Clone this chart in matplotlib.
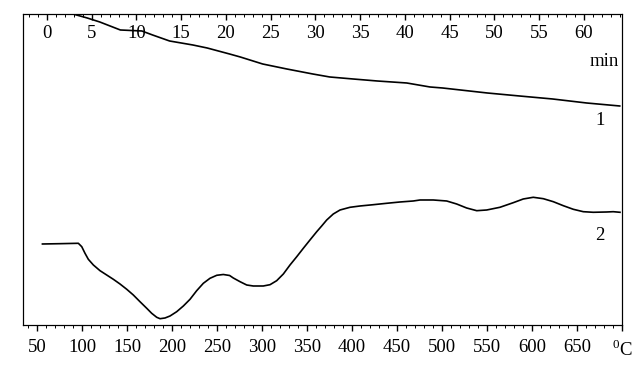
import numpy as np
import matplotlib; matplotlib.use("Agg")
import matplotlib.pyplot as plt
from matplotlib.ticker import MultipleLocator, FixedLocator, FixedFormatter

plt.rcParams["font.family"] = ["Liberation Serif", "DejaVu Serif"]
plt.rcParams["mathtext.fontset"] = "custom"
plt.rcParams["mathtext.rm"] = "Liberation Serif"

# curve 1: signal vs time (min), arbitrary units
t1 = [2.9, 4.5, 5.9, 8.2, 10.6, 11.8, 13.7, 16.3, 17.9, 20.4, 21.6, 24.1, 26.8,
      29.7, 31.6, 34.2, 36.9, 40.2, 42.8, 44.2, 49.2, 52.8, 56.5, 60.3, 64.0]
y1 = [311, 307, 303, 295, 294, 290, 284, 280, 277, 271, 268, 261, 256,
      251, 248, 246, 244, 242, 238, 237, 232, 229, 226, 222, 219]

# curve 2: signal vs temperature (°C), arbitrary units
T2 = [56, 75, 95.9, 99.7, 103.3, 107, 112.6, 120, 127.4, 134.8, 142.2, 149.7,
      157, 164.4, 171.9, 177.4, 183, 186.7, 192.2, 197.8, 205.2, 212.6, 220,
      227.4, 234.8, 242.2, 249.7, 257, 264, 268.1, 275.6, 283, 290.3, 301.4,
      308.9, 316.3, 323.7, 331.1, 338.6, 345.9, 353.3, 360.8, 366.3, 371.9,
      379.2, 386.7, 397.8, 408.9, 423.7, 438.6, 453.3, 468.1, 475.6, 490.3,
      505.2, 516.3, 527.4, 538.6, 549.7, 564.4, 579.2, 590.3, 601.4, 612.6,
      623.7, 634.8, 645.9, 657, 668.1, 683, 690.3, 697.8]
y2 = [81, 81.3, 81.7, 78.3, 71.7, 65.7, 60, 54.3, 50, 45.7, 41, 35.7,
      30, 23.3, 16.7, 11.7, 7.7, 6.3, 7, 9, 13.3, 19, 25.7,
      34.3, 41.7, 46.7, 49.7, 50.5, 49.5, 47, 43.3, 40, 39, 39,
      40.3, 44.3, 51, 60, 68.3, 76.7, 85, 93.3, 99, 105,
      111, 115, 117.7, 119, 120.3, 121.7, 123, 124, 125, 125,
      124, 121, 117, 114.3, 115, 117.7, 122.3, 126, 127.7, 126.3,
      123.3, 119.3, 115.7, 113.3, 112.7, 113, 113.3, 112.7]

temp_ticks = list(range(50, 701, 50))
temp_labels = [str(v) for v in temp_ticks[:-1]] + [r"$^{0}$C"]
time_ticks = list(range(0, 61, 5))

fig = plt.figure(figsize=(6.44, 3.79), dpi=100)
ax = fig.add_axes([0.0357, 0.1425, 0.9301, 0.8206])
ax2 = ax.twiny()

ax.plot(T2, y2, color="black", lw=1.2)
ax2.plot(t1, y1, color="black", lw=1.2)

ax.set_xlim(34.4, 700)
ax2.set_xlim(-2.68, 64.25)
ax.set_ylim(0, 311)
ax.set_yticks([])

ax.xaxis.set_major_locator(FixedLocator(temp_ticks))
ax.xaxis.set_major_formatter(FixedFormatter(temp_labels))
ax.xaxis.set_minor_locator(MultipleLocator(10))
ax.tick_params(axis="x", which="major", direction="out", length=4, width=1.0,
               pad=6, labelsize=13.5)
ax.tick_params(axis="x", which="minor", direction="out", length=2.5, width=0.7)

ax2.set_xticks(time_ticks)
ax2.xaxis.set_minor_locator(MultipleLocator(1))
ax2.tick_params(axis="x", which="major", direction="in", length=4, width=1.0,
                pad=-20, labelsize=13.5)
ax2.tick_params(axis="x", which="minor", direction="in", length=2.5, width=0.7)
for lab in ax2.get_xticklabels():
    lab.set_bbox(dict(facecolor="white", edgecolor="none", pad=1.5))

for a in (ax, ax2):
    for s in a.spines.values():
        s.set_linewidth(0.8)

ax.text(0.995, 0.846, "min", transform=ax.transAxes, ha="right", va="center",
        fontsize=13.5)
ax.text(0.963, 0.659, "1", transform=ax.transAxes, ha="center", va="center",
        fontsize=13.5)
ax.text(0.963, 0.289, "2", transform=ax.transAxes, ha="center", va="center",
        fontsize=13.5)

fig.savefig("out.png", dpi=100)
